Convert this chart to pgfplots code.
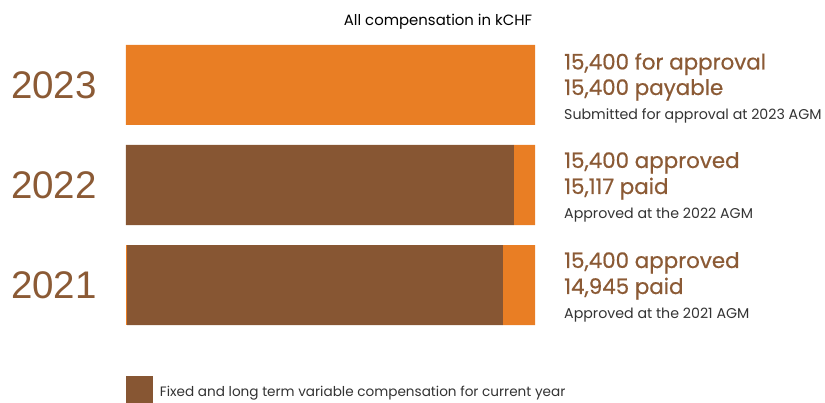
\documentclass[border=0pt]{standalone}
\usepackage{fontspec}
\setmainfont{Poppins}
\newfontfamily\medfont{Poppins}[FakeBold=0.6]
\newfontfamily\yearfont{Liberation Sans}
\usepackage{pgfplots}
\pgfplotsset{compat=1.18}
\definecolor{cbrown}{HTML}{875633}
\definecolor{corange}{HTML}{E97E24}
\definecolor{tbrown}{HTML}{8B5A35}
\definecolor{tgray}{HTML}{333333}
\begin{document}
\begin{tikzpicture}[x=1pt,y=1pt]
\path[use as bounding box] (0,0) rectangle (825,402);
\begin{axis}[at={(126pt,67pt)}, anchor=south west, scale only axis,
  width=409pt, height=300pt,
  xbar stacked, bar width=80pt,
  xmin=0, xmax=15400, ymin=-0.5, ymax=2.5,
  ytick={0,1,2}, yticklabels={2021,2022,2023}, xtick=\empty,
  axis line style={draw=none}, major tick length=0pt,
  yticklabel style={font=\yearfont\fontsize{38.5}{38.5}\selectfont, text=tbrown, inner sep=0pt, xshift=-29pt},
  legend style={at={(axis description cs:0,0)}, anchor=north west, yshift=-41pt,
    draw=none, fill=none, inner sep=0pt, outer sep=0pt,
    nodes={inner sep=0pt, text=tgray, font=\fontsize{13.6}{14}\selectfont},
    /tikz/every odd column/.append style={column sep=7pt}},
  legend image code/.code={\fill[#1] (0pt,-12pt) rectangle (27pt,16pt);},
]
\addplot[fill=corange, draw=none, forget plot] coordinates {(40,0) (0,1) (0,2)};
\addplot[fill=cbrown, draw=none] coordinates {(14155,0) (14609,1) (0,2)};
\addlegendentry{Fixed and long term variable compensation for current year}
\addplot[fill=corange, draw=none, forget plot] coordinates {(1205,0) (791,1) (15400,2)};
\end{axis}
\node[anchor=base, inner sep=0pt, text=black, font=\fontsize{14.9}{14.9}\selectfont] at (438,376) {All compensation in kCHF};
\begin{scope}[every node/.style={anchor=base west, inner sep=0pt}]
\node[text=tbrown, font=\medfont\fontsize{21.4}{21.4}\selectfont] at (564,332.5) {15,400 for approval};
\node[text=tbrown, font=\medfont\fontsize{21.4}{21.4}\selectfont] at (564,307) {15,400 payable};
\node[text=tgray, font=\fontsize{14.2}{14.2}\selectfont] at (564,282) {Submitted for approval at 2023 AGM};
\node[text=tbrown, font=\medfont\fontsize{21.4}{21.4}\selectfont] at (564,234) {15,400 approved};
\node[text=tbrown, font=\medfont\fontsize{21.4}{21.4}\selectfont] at (564,208) {15,117 paid};
\node[text=tgray, font=\fontsize{14.2}{14.2}\selectfont] at (564,183) {Approved at the 2022 AGM};
\node[text=tbrown, font=\medfont\fontsize{21.4}{21.4}\selectfont] at (564,134) {15,400 approved};
\node[text=tbrown, font=\medfont\fontsize{21.4}{21.4}\selectfont] at (564,108) {14,945 paid};
\node[text=tgray, font=\fontsize{14.2}{14.2}\selectfont] at (564,83) {Approved at the 2021 AGM};
\end{scope}
\end{tikzpicture}
\end{document}
